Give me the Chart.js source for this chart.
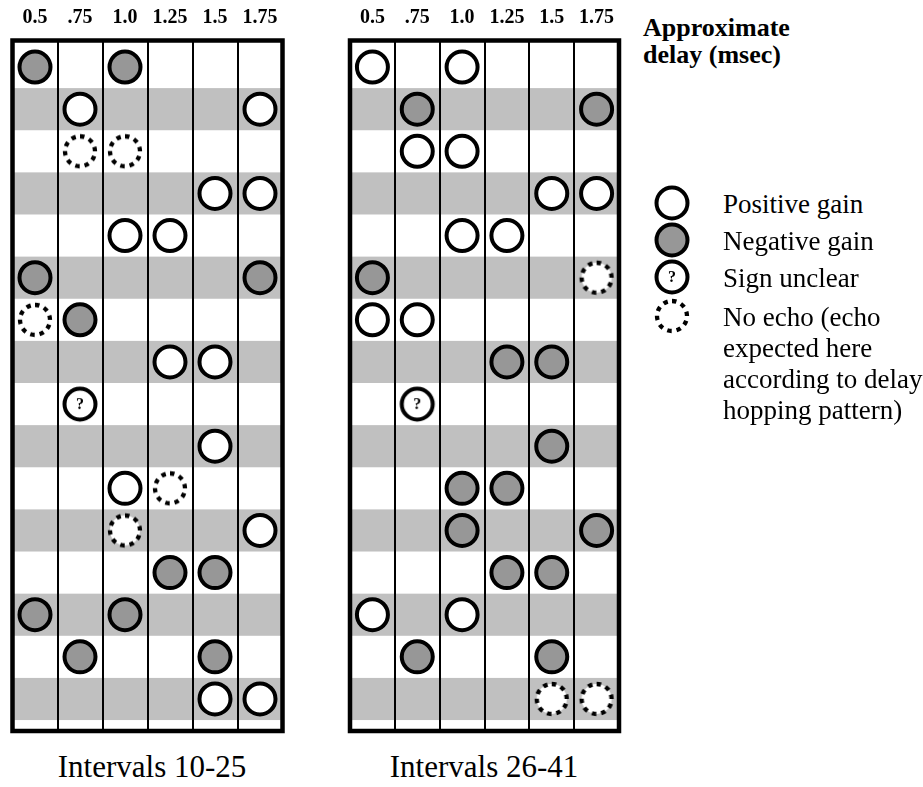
<!DOCTYPE html>
<html>
<head>
<meta charset="utf-8">
<script src="https://cdn.jsdelivr.net/npm/chart.js@4.4.1/dist/chart.umd.min.js"></script>
<style>
  body { margin: 0; background: #fff; font-family: "Liberation Serif", "Times New Roman", serif; color: #000; }
  #page { position: relative; width: 923px; height: 787px; overflow: hidden; }
  .panel { position: absolute; top: 0; }
  .caption { position: absolute; width: 300px; text-align: center; font-size: 31px; line-height: 34px; white-space: nowrap; }
  #legendTitle { position: absolute; left: 643px; top: 14px; font-weight: bold; font-size: 26px; line-height: 27px; }
  .legendMark { position: absolute; }
  .legendText { position: absolute; left: 723px; font-size: 27px; line-height: 31px; white-space: pre; }
</style>
</head>
<body>
<div id="page">
  <canvas id="earlyChart" class="panel" width="300" height="745" style="left:0px"></canvas>
  <canvas id="lateChart" class="panel" width="300" height="745" style="left:337px"></canvas>
  <div id="legendTitle">Approximate<br>delay (msec)</div>
  <div id="legendBox"></div>
  <div id="captions"></div>
</div>
<script>
const delayTicks = [0.5, 0.75, 1.0, 1.25, 1.5, 1.75];
const delayLabels = ["0.5", ".75", "1.0", "1.25", "1.5", "1.75"];

// each point is [delay (msec), interval number]
const earlyPositive = [[0.75, 11], [1.75, 11], [1.5, 13], [1.75, 13], [1.0, 14], [1.25, 14],
  [1.25, 17], [1.5, 17], [1.5, 19], [1.0, 20], [1.75, 21], [1.5, 25], [1.75, 25]];
const earlyNegative = [[0.5, 10], [1.0, 10], [0.5, 15], [1.75, 15], [0.75, 16], [1.25, 22],
  [1.5, 22], [0.5, 23], [1.0, 23], [0.75, 24], [1.5, 24]];
const earlyUnclear = [[0.75, 18]];
const earlyNoEcho = [[0.75, 12], [1.0, 12], [0.5, 16], [1.25, 20], [1.0, 21]];

const latePositive = [[0.5, 26], [1.0, 26], [0.75, 28], [1.0, 28], [1.5, 29], [1.75, 29],
  [1.0, 30], [1.25, 30], [0.5, 32], [0.75, 32], [0.5, 39], [1.0, 39]];
const lateNegative = [[0.75, 27], [1.75, 27], [0.5, 31], [1.25, 33], [1.5, 33], [1.5, 35],
  [1.0, 36], [1.25, 36], [1.0, 37], [1.75, 37], [1.25, 38], [1.5, 38], [0.75, 40], [1.5, 40]];
const lateUnclear = [[0.75, 34]];
const lateNoEcho = [[1.75, 31], [1.5, 41], [1.75, 41]];

const panelIntervals = [[10, 25], [26, 41]];
const panelCaptions = ["Intervals 10-25", "Intervals 26-41"];
const legendLabels = ["Positive gain", "Negative gain", "Sign unclear",
  "No echo (echo\nexpected here\naccording to delay\nhopping pattern)"];

const STRIPE = "#c0c0c0";
const NEG_FILL = "#979797";
const SERIF = "'Liberation Serif', 'Times New Roman', serif";

// marker drawn on a small canvas, used as a Chart.js pointStyle and in the legend
function ringGlyph(kind) {
  const c = document.createElement("canvas");
  c.width = 40;
  c.height = 40;
  const ctx = c.getContext("2d");
  const r = kind === "noEcho" ? 15 : 15.5;
  ctx.beginPath();
  ctx.arc(20, 20, r, -Math.PI / 2, Math.PI * 1.5);
  ctx.fillStyle = kind === "negative" ? NEG_FILL : "#fff";
  ctx.fill();
  ctx.strokeStyle = "#000";
  if (kind === "noEcho") {
    const period = (2 * Math.PI * r) / 10;
    ctx.setLineDash([4.5, period - 4.5]);
    ctx.lineWidth = 4.3;
  } else {
    ctx.lineWidth = 4;
  }
  ctx.stroke();
  if (kind === "unclear") {
    ctx.fillStyle = "#000";
    ctx.font = `bold 16px ${SERIF}`;
    ctx.textAlign = "center";
    ctx.textBaseline = "middle";
    ctx.fillText("?", 20, 21);
  }
  return c;
}

const stripesAndFrame = {
  id: "stripesAndFrame",
  beforeDraw(chart) {
    const { ctx, chartArea, scales } = chart;
    const [first, last] = chart.options.plugins.stripesAndFrame.range;
    ctx.save();
    ctx.fillStyle = STRIPE;
    for (let iv = first; iv <= last; iv++) {
      if ((iv - first) % 2 === 0) continue;
      const y0 = scales.y.getPixelForValue(iv - 0.5);
      const y1 = scales.y.getPixelForValue(iv + 0.5);
      ctx.fillRect(chartArea.left, Math.min(y0, y1), chartArea.right - chartArea.left, Math.abs(y1 - y0));
    }
    ctx.restore();
  },
  afterDatasetsDraw(chart) {
    const { ctx, chartArea } = chart;
    ctx.save();
    ctx.strokeStyle = "#000";
    ctx.lineWidth = 4.5;
    ctx.strokeRect(chartArea.left, chartArea.top, chartArea.right - chartArea.left, chartArea.bottom - chartArea.top);
    ctx.restore();
  }
};

function markSet(points, style, fill) {
  return {
    data: points.map(([x, y]) => ({ x, y })),
    pointStyle: style,
    pointRadius: 15.5,
    pointBackgroundColor: fill,
    pointBorderColor: "#000",
    pointBorderWidth: 4,
    showLine: false
  };
}

function makePanel(canvasId, range, positive, negative, unclear, noEcho, padLeft, padRight) {
  const [first, last] = range;
  return new Chart(document.getElementById(canvasId), {
    type: "scatter",
    data: {
      datasets: [
        markSet(noEcho, ringGlyph("noEcho"), "#fff"),
        markSet(unclear, ringGlyph("unclear"), "#fff"),
        markSet(negative, "circle", NEG_FILL),
        markSet(positive, "circle", "#fff")
      ]
    },
    options: {
      responsive: false,
      animation: false,
      events: [],
      // big markers would otherwise push the plot area inwards
      layout: { autoPadding: false, padding: { left: padLeft, right: padRight, top: 0, bottom: 14 } },
      scales: {
        x: {
          type: "linear",
          position: "top",
          min: 0.375,
          max: 1.875,
          afterBuildTicks: (scale) => { scale.ticks = delayTicks.map((v) => ({ value: v })); },
          afterFit: (scale) => {
            scale.height = 40.5;
            scale.paddingLeft = 0;
            scale.paddingRight = 0;
          },
          ticks: {
            autoSkip: false,
            maxRotation: 0,
            padding: 11,
            color: "#000",
            font: { family: SERIF, size: 20, weight: "bold" },
            callback: (v, i) => delayLabels[i]
          },
          grid: { offset: true, drawTicks: false, color: "#000", lineWidth: 2 },
          border: { display: false }
        },
        y: {
          type: "linear",
          display: false,
          reverse: true,
          min: first - 0.63,
          max: last + 0.76
        }
      },
      plugins: {
        legend: { display: false },
        tooltip: { enabled: false },
        stripesAndFrame: { range }
      }
    },
    plugins: [stripesAndFrame]
  });
}

makePanel("earlyChart", panelIntervals[0], earlyPositive, earlyNegative, earlyUnclear, earlyNoEcho, 12.5, 17.5);
makePanel("lateChart", panelIntervals[1], latePositive, lateNegative, lateUnclear, lateNoEcho, 13, 18);

// legend on the right
const legendBox = document.getElementById("legendBox");
const legendKinds = ["positive", "negative", "unclear", "noEcho"];
const legendCentres = [203, 240, 277, 316];
legendKinds.forEach((kind, i) => {
  const mark = ringGlyph(kind);
  mark.className = "legendMark";
  mark.style.left = "652px";
  mark.style.top = `${legendCentres[i] - 20}px`;
  legendBox.appendChild(mark);
  const text = document.createElement("div");
  text.className = "legendText";
  text.style.top = `${legendCentres[i] + 1 - 15.5}px`;
  text.textContent = legendLabels[i];
  legendBox.appendChild(text);
});

// captions under the panels
const captionCentres = [152, 484];
document.getElementById("captions").innerHTML = panelCaptions
  .map((c, i) => `<div class="caption" style="left:${captionCentres[i] - 150}px; top:750px">${c}</div>`)
  .join("");
</script>
</body>
</html>
